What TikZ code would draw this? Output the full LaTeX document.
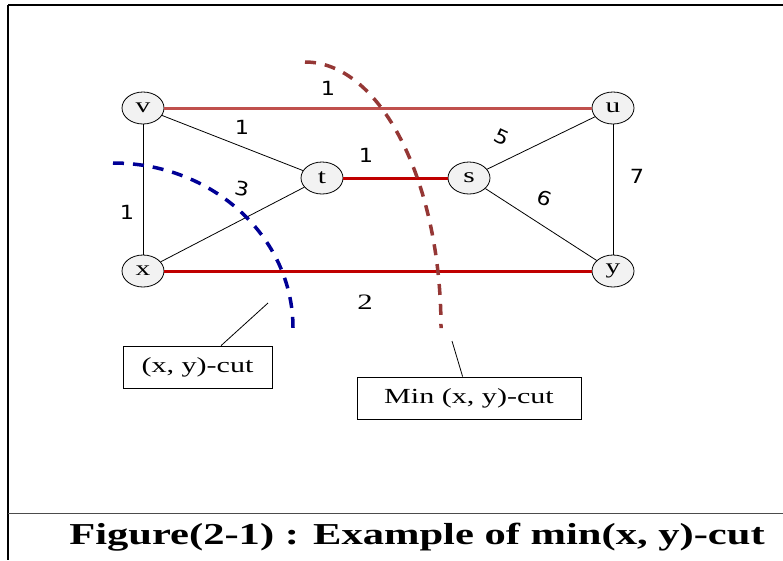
\documentclass[tikz,border=0pt]{standalone}
\usepackage{fontspec}
\setmainfont[FakeStretch=1.4]{Liberation Serif}
\newfontfamily\numfont[FakeStretch=1.15]{DejaVu Sans}
\usetikzlibrary{shapes.geometric}
\definecolor{lightred}{RGB}{192,80,77}
\definecolor{darkred}{RGB}{192,0,0}
\definecolor{cutblue}{RGB}{0,0,150}
\definecolor{cutbrown}{RGB}{149,55,53}
\definecolor{nodefill}{RGB}{242,242,242}
\tikzset{
  vtx/.style={ellipse, draw=black, fill=nodefill, line width=0.8pt, minimum width=42pt, minimum height=32pt, inner sep=0pt, font=\fontsize{21}{21}\selectfont},
  thin edge/.style={draw=black, line width=0.8pt},
  lred edge/.style={draw=lightred, line width=3pt},
  dred edge/.style={draw=darkred, line width=3pt},
  wlabel/.style={font=\numfont\fontsize{19.5}{19.5}\selectfont, inner sep=0pt},
  cutline/.style={line width=3.5pt, dash pattern=on 11pt off 9pt},
  callbox/.style={draw=black, line width=0.8pt, rectangle, inner sep=0pt, font=\fontsize{21.5}{21.5}\selectfont},
}
\begin{document}
\begin{tikzpicture}[x=1pt, y=-1pt]
\useasboundingbox (0,0) rectangle (783,560);
% frame
\draw[line width=2pt] (8,5) -- (783,5);
\draw[line width=1.5pt] (8,5) -- (8,560);
\draw[line width=1pt, black!70] (8,513) -- (783,513);
% nodes
\node[vtx] (v) at (143,108) {v};
\node[vtx] (u) at (613,108) {u};
\node[vtx] (t) at (322,178) {t};
\node[vtx] (s) at (469,178) {s};
\node[vtx] (x) at (143,271) {x};
\node[vtx] (y) at (613,271) {y};
% edges
\draw[lred edge] (v) -- (u);
\draw[dred edge] (t) -- (s);
\draw[dred edge] (x) -- (y);
\draw[thin edge] (v) -- (t);
\draw[thin edge] (t) -- (x);
\draw[thin edge] (v) -- (x);
\draw[thin edge] (s) -- (u);
\draw[thin edge] (s) -- (y);
\draw[thin edge] (u) -- (y);
% weights
\node[wlabel] (w1) at (328,88) {1};
\node[wlabel] (w2) at (242,127) {1};
\node[wlabel] (w3) at (366,155) {1};
\node[wlabel, rotate=-10] (w4) at (242,189) {3};
\node[wlabel] (w5) at (127,212) {1};
\node[wlabel, rotate=-25] (w6) at (502,137) {5};
\node[wlabel, rotate=-20] (w7) at (545,198) {6};
\node[wlabel] (w8) at (637,176) {7};
\node[inner sep=0pt, font=\fontsize{22}{22}\selectfont] (w9) at (365,302) {2};
% cuts
\draw[cutline, cutblue] (113,163) arc[start angle=-90, end angle=0, x radius=180, y radius=165];
\draw[cutline, cutbrown] (305,62) arc[start angle=-90, end angle=0, x radius=136, y radius=266];
% callouts
\node[callbox, minimum width=149pt, minimum height=42pt] (b1) at (197.5,367) {(x, y)-cut};
\node[callbox, minimum width=224pt, minimum height=42pt] (b2) at (469,398) {Min (x, y)-cut};
\coordinate (c1) at (268,303);
\coordinate (c2) at (452,341);
\draw[line width=0.8pt] (c1) -- (b1);
\draw[line width=0.8pt] (c2) -- (b2);
% caption
\node[font=\bfseries\fontsize{30.4}{30.4}\selectfont, inner sep=0pt] (cap) at (417,537) {Figure(2-1) : Example of min(x, y)-cut};
\end{tikzpicture}
\end{document}
